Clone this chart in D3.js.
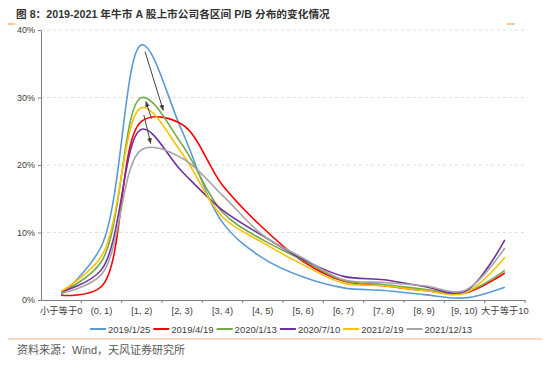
<!DOCTYPE html>
<html><head><meta charset="utf-8">
<script src="https://cdn.jsdelivr.net/npm/d3@7"></script>
<style>
body{margin:0;background:#fff;}
svg text{font-family:"Liberation Sans","Noto Sans CJK SC",sans-serif;}
</style></head>
<body><svg id="c" width="550" height="368"></svg>
<script>
const categories = ["小于等于0","(0, 1)","[1, 2)","[2, 3)","[3, 4)","[4, 5)","[5, 6)","[6, 7)","[7, 8)","[8, 9)","[9, 10)","大于等于10"];
const seriesNames = ["2019/1/25","2019/4/19","2020/1/13","2020/7/10","2021/2/19","2021/12/13"];
const seriesColors = ["#5b9bd5","#ff0000","#70ad47","#7030a0","#ffc000","#a5a5a5"];
const s2019_1_25  = [0.8, 8.0, 37.8, 25.0, 11.5, 6.2, 3.4, 1.8, 1.4, 0.8, 0.3, 1.9];
const s2019_4_19  = [0.7, 2.0, 26.5, 26.0, 17.0, 10.7, 5.7, 2.8, 2.1, 1.4, 1.0, 4.0];
const s2020_1_13  = [1.1, 5.7, 30.0, 23.0, 13.0, 8.9, 5.9, 2.9, 2.3, 1.6, 1.1, 4.4];
const s2020_7_10  = [1.2, 4.5, 25.3, 19.0, 13.3, 9.5, 6.0, 3.5, 3.0, 2.0, 1.2, 8.9];
const s2021_2_19  = [1.3, 6.5, 28.5, 21.7, 12.3, 8.5, 5.2, 2.5, 2.1, 1.4, 1.0, 6.3];
const s2021_12_13 = [1.0, 3.8, 22.3, 21.0, 15.5, 9.6, 6.2, 3.0, 2.6, 2.1, 1.4, 7.7];
const yTicks = [0, 10, 20, 30, 40];
// annotation arrows in data units: [fromIndex, fromValue, toIndex, toValue]
const arrows = [[2.08, 36.8, 2.53, 28.1],[2.24, 26.9, 2.10, 29.4],[2.05, 27.4, 2.22, 23.2]];
const title = "图 8：2019-2021 年牛市 A 股上市公司各区间 P/B 分布的变化情况";
const source = "资料来源：Wind，天风证券研究所";

const allSeries = [s2019_1_25, s2019_4_19, s2020_1_13, s2020_7_10, s2021_2_19, s2021_12_13];
const svg = d3.select("#c");
const mLeft = 41, mRight = 525, mTop = 30, mBottom = 300;

const x = d3.scaleBand().domain(categories).range([mLeft, mRight]).padding(0);
const bw = x.bandwidth();
const xi = d3.scaleLinear().domain([0, categories.length - 1])
  .range([x(categories[0]) + bw/2, x(categories[categories.length-1]) + bw/2]);
const y = d3.scaleLinear().domain([0, 40]).range([mBottom, mTop]);

// decorations
const orange = "#f4b183";
svg.append("line").attr("x1",8).attr("x2",15).attr("y1",24).attr("y2",24).attr("stroke","#f0a35e").attr("stroke-width",1.2);
svg.append("line").attr("x1",507).attr("x2",515).attr("y1",24).attr("y2",24).attr("stroke","#f0a35e").attr("stroke-width",1.2);
svg.append("line").attr("x1",8).attr("x2",542).attr("y1",339).attr("y2",339).attr("stroke",orange).attr("stroke-width",1.2);

// title
svg.append("text").attr("x",16).attr("y",18).attr("font-size",10.7).attr("font-weight","bold").attr("fill","#333").text(title);

// grid
svg.append("g").selectAll("line").data(yTicks.filter(d=>d>0)).join("line")
  .attr("x1",mLeft).attr("x2",527).attr("y1",d=>y(d)).attr("y2",d=>y(d))
  .attr("stroke","#d9d9d9").attr("stroke-dasharray","3,3").attr("stroke-width",0.8);

// y axis
const ya = svg.append("g").attr("transform",`translate(${mLeft},0)`)
  .call(d3.axisLeft(y).tickValues(yTicks).tickFormat(d=>d+"%").tickSize(3).tickSizeOuter(0));
ya.select(".domain").attr("stroke","#7f7f7f");
ya.selectAll(".tick line").attr("stroke","#7f7f7f");
ya.selectAll("text").attr("font-size",9).attr("fill","#404040").attr("font-family",null);

// x axis
const xa = svg.append("g").attr("transform",`translate(0,${mBottom})`)
  .call(d3.axisBottom(x).tickSize(0).tickPadding(7).tickSizeOuter(0));
xa.select(".domain").attr("stroke","#7f7f7f");
xa.selectAll("text").attr("font-size",9.3).attr("fill","#404040").attr("font-family",null);
svg.append("g").selectAll("line").data(categories.slice(1).concat(["__end"])).join("line")
  .attr("x1",d=>d==="__end"?mRight:x(d)).attr("x2",d=>d==="__end"?mRight:x(d))
  .attr("y1",mBottom).attr("y2",mBottom+3).attr("stroke","#7f7f7f");

// lines
const line = d3.line().x((d,i)=>xi(i)).y(d=>y(d)).curve(d3.curveCatmullRom.alpha(0.5));
svg.append("g").selectAll("path").data(allSeries).join("path")
  .attr("d",d=>line(d)).attr("fill","none").attr("stroke",(d,i)=>seriesColors[i]).attr("stroke-width",1.6);

// arrows
const defs = svg.append("defs");
defs.append("marker").attr("id","ah").attr("viewBox","0 0 10 10").attr("refX",9).attr("refY",5)
  .attr("markerWidth",6).attr("markerHeight",6).attr("orient","auto-start-reverse")
  .append("path").attr("d","M0,1 L10,5 L0,9 Z").attr("fill","#404040");
svg.append("g").selectAll("line").data(arrows).join("line")
  .attr("x1",d=>xi(d[0])).attr("y1",d=>y(d[1])).attr("x2",d=>xi(d[2])).attr("y2",d=>y(d[3]))
  .attr("stroke","#404040").attr("stroke-width",1).attr("marker-end","url(#ah)");

// legend
const lg = svg.append("g").selectAll("g").data(seriesNames).join("g")
  .attr("transform",(d,i)=>`translate(${90 + i*63.3},329)`);
lg.append("line").attr("x1",0).attr("x2",16).attr("y1",0).attr("y2",0).attr("stroke",(d,i)=>seriesColors[i]).attr("stroke-width",2);
lg.append("text").attr("x",18).attr("y",3.5).attr("font-size",9.5).attr("fill","#404040").text(d=>d);

// source
svg.append("text").attr("x",17).attr("y",354).attr("font-size",11).attr("fill","#595959").text(source);
</script></body></html>
